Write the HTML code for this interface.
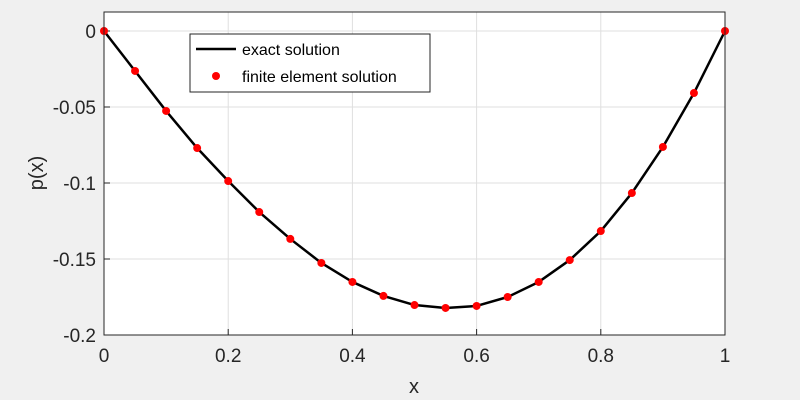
<!DOCTYPE html>
<html><head><meta charset="utf-8"><style>
body{margin:0;background:#f0f0f0;}
svg{display:block;font-family:"Liberation Sans",sans-serif;}
</style></head><body>
<svg id="chart" width="800" height="400">
<rect x="0" y="0" width="800" height="400" fill="#f0f0f0"/>
<rect x="104" y="12" width="621" height="323" fill="#fff"/>
<g id="grid"></g><g id="ticks"></g><g id="series"></g>
<rect x="104" y="12" width="621" height="323" fill="none" stroke="#262626" stroke-width="1"/>
<text x="414" y="393" font-size="20" text-anchor="middle" fill="#262626">x</text>
<text x="0" y="0" font-size="20" text-anchor="middle" fill="#262626" transform="translate(43,173) rotate(-90)">p(x)</text>
<g>
<rect x="190" y="34" width="240" height="58" fill="#fff" stroke="#262626" stroke-width="1"/>
<line x1="196" y1="49" x2="236" y2="49" stroke="#000" stroke-width="2.5"/>
<text x="242" y="55" font-size="16" fill="#000">exact solution</text>
<circle cx="216" cy="76" r="4" fill="#f00"/>
<text x="242" y="82" font-size="16" fill="#000">finite element solution</text>
</g>
</svg>
<script>
const xs=[0,0.05,0.1,0.15,0.2,0.25,0.3,0.35,0.4,0.45,0.5,0.55,0.6,0.65,0.7,0.75,0.8,0.85,0.9,0.95,1];
const exactVals=[0,-0.0263,-0.0526,-0.0770,-0.0987,-0.1191,-0.1368,-0.1526,-0.1651,-0.1743,-0.1803,-0.1822,-0.1809,-0.1750,-0.1651,-0.1507,-0.1316,-0.1066,-0.0763,-0.0408,0];
const femVals=[0,-0.0263,-0.0526,-0.0770,-0.0987,-0.1191,-0.1368,-0.1526,-0.1651,-0.1743,-0.1803,-0.1822,-0.1809,-0.1750,-0.1651,-0.1507,-0.1316,-0.1066,-0.0763,-0.0408,0];
const xTicks=[0,0.2,0.4,0.6,0.8,1];
const xTickLabels=["0","0.2","0.4","0.6","0.8","1"];
const yTicks=[0,-0.05,-0.1,-0.15,-0.2];
const yTickLabels=["0","-0.05","-0.1","-0.15","-0.2"];
const NS="http://www.w3.org/2000/svg";
const X=v=>104+v*621, Y=v=>31-v*1520;
function mk(t,a,p){const e=document.createElementNS(NS,t);for(const k in a)e.setAttribute(k,a[k]);p.appendChild(e);return e;}
const grid=document.getElementById('grid'),ticks=document.getElementById('ticks'),ser=document.getElementById('series');
xTicks.forEach((v,i)=>{
 const g=mk('line',{x1:X(v),x2:X(v),y1:12,y2:335,stroke:'#dfdfdf'},grid);
 
 
 const t=mk('line',{x1:X(v),x2:X(v),y1:335,y2:329,stroke:'#262626'},ticks);
 
 
 const l=mk('text',{x:X(v),y:362,'font-size':19,'text-anchor':'middle',fill:'#262626'},ticks);
 l.textContent=xTickLabels[i];
 
 
});
yTicks.forEach((v,i)=>{
 const g=mk('line',{x1:104,x2:725,y1:Y(v),y2:Y(v),stroke:'#dfdfdf'},grid);
 
 
 const t=mk('line',{x1:104,x2:110,y1:Y(v),y2:Y(v),stroke:'#262626'},ticks);
 
 
 const l=mk('text',{x:96,y:Y(v)+7,'font-size':19,'text-anchor':'end',fill:'#262626'},ticks);
 l.textContent=yTickLabels[i];
 
 
});
const line=mk('polyline',{points:xs.map((x,i)=>X(x)+','+Y(exactVals[i])).join(' '),fill:'none',stroke:'#000','stroke-width':2.5,'stroke-linejoin':'round'},ser);


xs.forEach((x,i)=>{
 const c=mk('circle',{cx:X(x),cy:Y(femVals[i]),r:4,fill:'#f00'},ser);
 
 
});
</script>
</body></html>
